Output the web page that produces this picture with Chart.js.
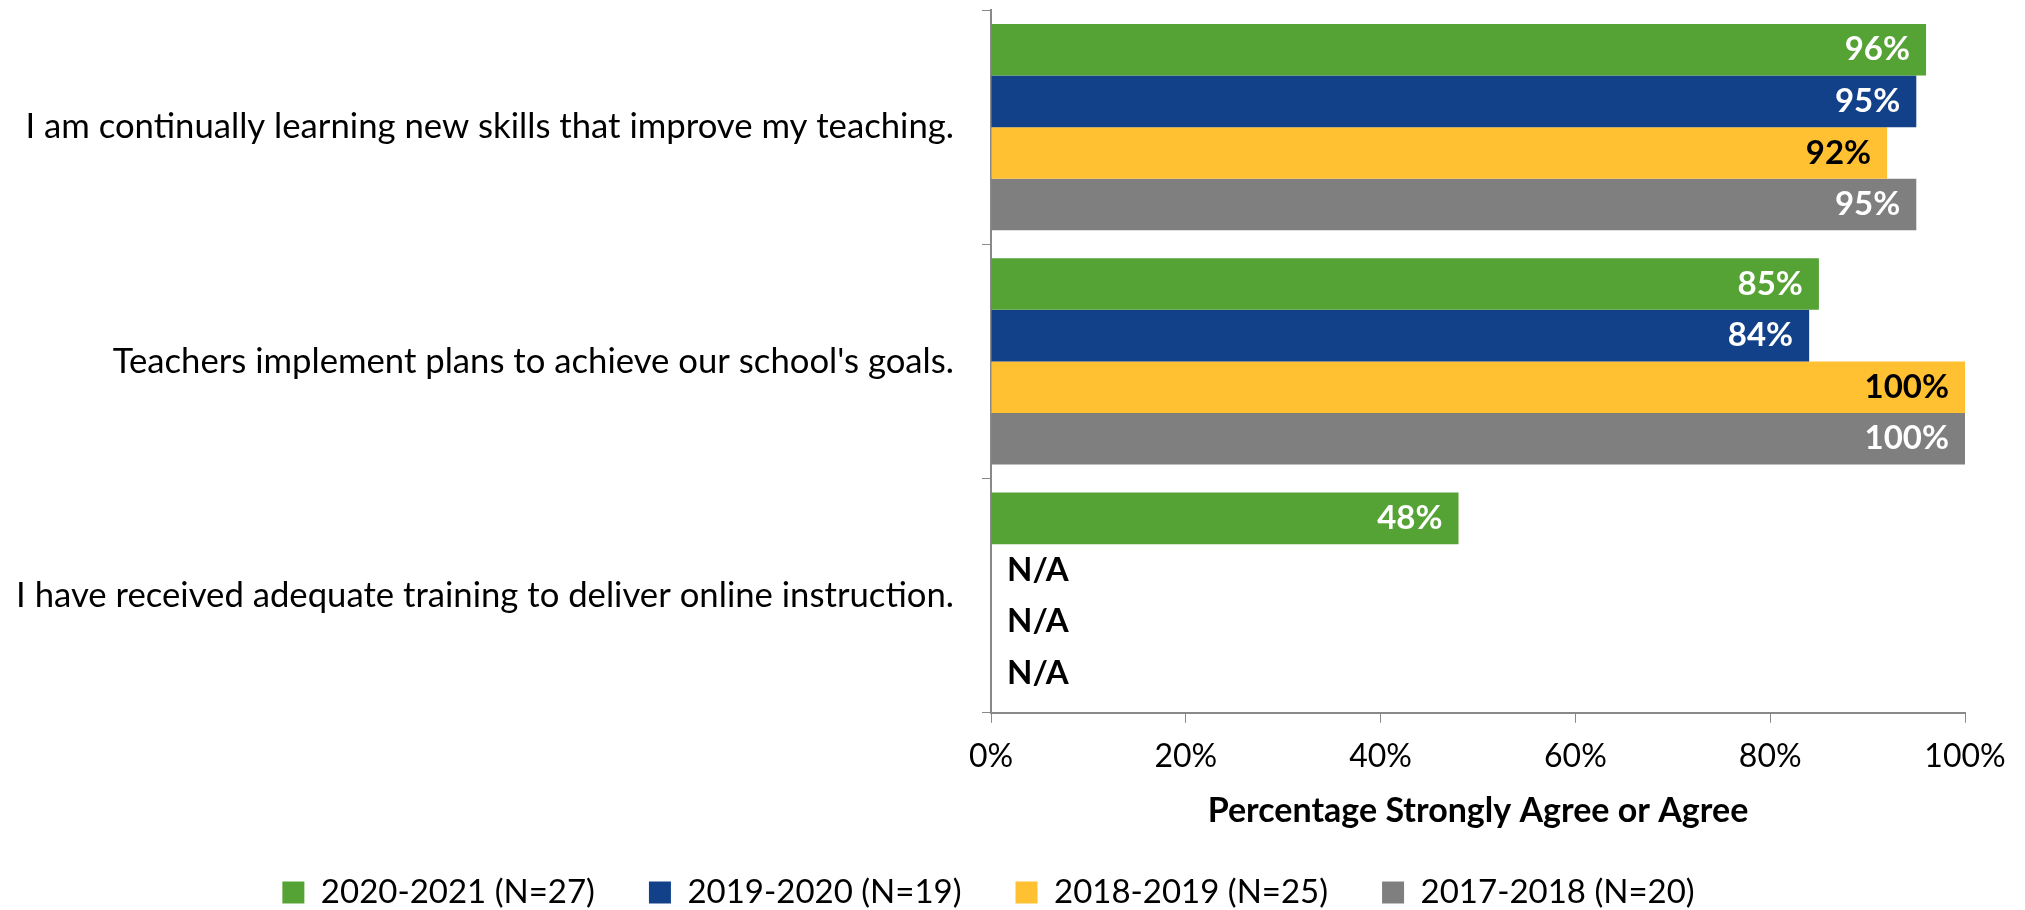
<!DOCTYPE html>
<html>
<head>
<meta charset="utf-8">
<script src="https://cdn.jsdelivr.net/npm/chart.js@4.4.1/dist/chart.umd.min.js"></script>
<style>
  html, body { margin: 0; padding: 0; background: #fff; }
  canvas { display: block; }
</style>
</head>
<body>
<canvas id="myChart" width="2025" height="910"></canvas>
<script>
// survey items and the share answering strongly agree / agree, per school year
const statements = [
  "I am continually learning new skills that improve my teaching.",
  "Teachers implement plans to achieve our school's goals.",
  "I have received adequate training to deliver online instruction."
];
const yearLabels = ["2020-2021 (N=27)", "2019-2020 (N=19)", "2018-2019 (N=25)", "2017-2018 (N=20)"];
const y2021 = [96, 85, 48];
const y2020 = [95, 84, null];
const y2019 = [92, 100, null];
const y2018 = [95, 100, null];
const xTicks = [0, 20, 40, 60, 80, 100];

const colors = ["#55A235", "#134189", "#FFC131", "#7F7F7F"];
const labelColors = ["#ffffff", "#ffffff", "#000000", "#ffffff"];
const FONT = "Lato, 'Open Sans', sans-serif";

// value labels inside bar ends, "N/A" for missing years
const barLabels = {
  id: "barLabels",
  afterDatasetsDraw(chart) {
    const ctx = chart.ctx;
    ctx.save();
    ctx.font = "bold 33px " + FONT;
    ctx.textBaseline = "middle";
    chart.data.datasets.forEach((ds, di) => {
      const meta = chart.getDatasetMeta(di);
      meta.data.forEach((bar, i) => {
        const v = ds.data[i];
        if (v === null) {
          ctx.fillStyle = "#000";
          ctx.textAlign = "left";
          ctx.fillText("N/A", chart.chartArea.left + 16, bar.y);
        } else {
          ctx.fillStyle = labelColors[di];
          ctx.textAlign = "right";
          ctx.fillText(v + "%", bar.x - 16, bar.y);
        }
      });
    });
    ctx.restore();
  }
};

const series = [y2021, y2020, y2019, y2018];

const chart = new Chart("myChart", {
  type: "bar",
  data: {
    labels: statements,
    datasets: series.map((d, i) => ({
      label: yearLabels[i],
      data: d,
      backgroundColor: colors[i],
      borderWidth: 0,
      categoryPercentage: 0.88,
      barPercentage: 1.0
    }))
  },
  options: {
    indexAxis: "y",
    responsive: false,
    animation: false,
    layout: { padding: { top: 10, right: 60, left: 12, bottom: -9 } },
    plugins: {
      legend: {
        position: "bottom",
        labels: {
          font: { family: FONT, size: 33 },
          color: "#000",
          boxWidth: 22,
          boxHeight: 22,
          padding: 54
        }
      },
      tooltip: { enabled: false }
    },
    scales: {
      y: {
        afterFit(scale) {
          scale.width = 979;
          scale.paddingTop = 0;
          scale.paddingBottom = 0;
        },
        grid: {
          offset: true,
          drawOnChartArea: false,
          color: "#898989",
          tickLength: 9
        },
        border: { color: "#898989", width: 2 },
        ticks: {
          font: { family: FONT, size: 34.7 },
          color: "#000",
          padding: 28
        }
      },
      x: {
        min: 0,
        max: 100,
        afterBuildTicks(scale) { scale.ticks = xTicks.map(v => ({ value: v })); },
        grid: {
          drawOnChartArea: false,
          color: "#898989",
          tickLength: 10
        },
        border: { color: "#898989", width: 2 },
        ticks: {
          font: { family: FONT, size: 32 },
          color: "#000",
          padding: 15,
          callback: v => v + "%"
        },
        title: {
          display: true,
          text: "Percentage Strongly Agree or Agree",
          font: { family: FONT, size: 34, weight: "bold" },
          color: "#000",
          padding: { top: -1, bottom: -9 }
        }
      }
    }
  },
  plugins: [barLabels]
});
</script>
</body>
</html>
